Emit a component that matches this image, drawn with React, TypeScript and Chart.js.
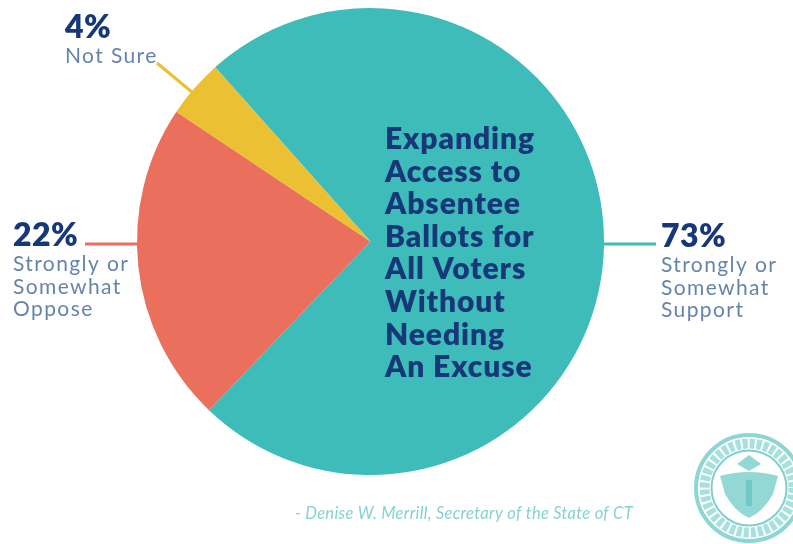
import React, { useEffect, useRef } from "react";
import { Chart, registerables } from "chart.js";

Chart.register(...registerables);

const categories = ["Strongly or Somewhat Support", "Strongly or Somewhat Oppose", "Not Sure"];
const shares = [73, 22, 4];
const sliceColors = ["#3ebcb9", "#ea6f5c", "#ebc033"];
const centerLines = ["Expanding", "Access to", "Absentee", "Ballots for", "All Voters", "Without", "Needing", "An Excuse"];
const supportLines = ["Strongly or", "Somewhat", "Support"];
const opposeLines = ["Strongly or", "Somewhat", "Oppose"];
const unsureLines = ["Not Sure"];
const attribution = "- Denise W. Merrill, Secretary of the State of CT";

const NAVY = "#163878";
const SLATE = "#6684ab";
const FACE = "Lato";

// Value headings, sublabels, leader lines, the centre caption and the seal.
const annotations = {
  id: "annotations",
  afterDatasetsDraw(chart: Chart) {
    const ctx: any = chart.ctx;
    const arc: any = chart.getDatasetMeta(0).data[0];
    const cx = arc.x;
    const r = arc.outerRadius;

    const leader = (color: string, x1: number, y1: number, x2: number, y2: number) => {
      ctx.strokeStyle = color;
      ctx.lineWidth = 3;
      ctx.beginPath();
      ctx.moveTo(x1, y1);
      ctx.lineTo(x2, y2);
      ctx.stroke();
    };
    leader(sliceColors[0], cx + r - 1, 244, 656, 244);
    leader(sliceColors[1], 85, 244, cx - r + 1, 244);
    leader(sliceColors[2], 157, 63, 193, 93);

    ctx.textAlign = "left";
    ctx.textBaseline = "alphabetic";

    const block = (value: number, lines: string[], x: number, y: number) => {
      ctx.fillStyle = NAVY;
      ctx.letterSpacing = "0.4px";
      ctx.font = `800 32px ${FACE}`;
      ctx.fillText(`${value}%`, x, y);
      ctx.fillStyle = SLATE;
      ctx.letterSpacing = "1.4px";
      ctx.font = `400 21px ${FACE}`;
      lines.forEach((line, i) => ctx.fillText(line, x, y + 25 + i * 22.5));
    };
    block(shares[0], supportLines, 661, 247);
    block(shares[1], opposeLines, 13, 246);
    block(shares[2], unsureLines, 65, 38);

    ctx.fillStyle = NAVY;
    ctx.letterSpacing = "0.9px";
    ctx.font = `800 30px ${FACE}`;
    centerLines.forEach((line, i) => ctx.fillText(line, 385, 149 + i * 32.6));

    ctx.fillStyle = "#86d2cf";
    ctx.letterSpacing = "0.3px";
    ctx.font = `italic 400 16.5px ${FACE}`;
    ctx.fillText(attribution, 295, 519);
    ctx.letterSpacing = "0px";

    // State seal, running off the right edge
    const sx = 749;
    const sy = 488;
    const ring = (radius: number, width: number, color: string, dash: number[] = []) => {
      ctx.strokeStyle = color;
      ctx.lineWidth = width;
      ctx.setLineDash(dash);
      ctx.beginPath();
      ctx.arc(sx, sy, radius, 0, Math.PI * 2);
      ctx.stroke();
      ctx.setLineDash([]);
    };
    ring(53, 4, "#8ed6d3");
    ring(44.5, 10, "#a8e0dd", [5, 2]);
    ring(37.5, 2, "#7fd0cd");
    ctx.fillStyle = "#93d8d5";
    ctx.beginPath();
    ctx.moveTo(sx - 29, sy - 12);
    ctx.quadraticCurveTo(sx, sy - 20, sx + 29, sy - 12);
    ctx.lineTo(sx + 24, sy + 6);
    ctx.quadraticCurveTo(sx + 14, sy + 24, sx, sy + 30);
    ctx.quadraticCurveTo(sx - 14, sy + 24, sx - 24, sy + 6);
    ctx.closePath();
    ctx.fill();
    ctx.beginPath();
    ctx.moveTo(sx - 12, sy - 24);
    ctx.lineTo(sx, sy - 33);
    ctx.lineTo(sx + 12, sy - 24);
    ctx.lineTo(sx, sy - 17);
    ctx.closePath();
    ctx.fill();
    ctx.fillStyle = "#6fcac7";
    ctx.fillRect(sx - 3, sy - 8, 6, 26);
  },
};

export default function App() {
  const ref = useRef<HTMLCanvasElement>(null);

  useEffect(() => {
    document.body.style.margin = "0";
    const chart = new Chart(ref.current!, {
      type: "pie",
      data: {
        labels: categories,
        datasets: [{ data: shares, backgroundColor: sliceColors, borderWidth: 0 }],
      },
      options: {
        animation: false,
        responsive: false,
        rotation: -41.7,
        layout: { padding: { top: 8, bottom: 69, left: 137, right: 189 } },
        plugins: { legend: { display: false }, tooltip: { enabled: false } },
      },
      plugins: [annotations],
    });
    return () => chart.destroy();
  }, []);

  return <canvas ref={ref} width={793} height={544} style={{ display: "block", background: "#fff" }} />;
}
